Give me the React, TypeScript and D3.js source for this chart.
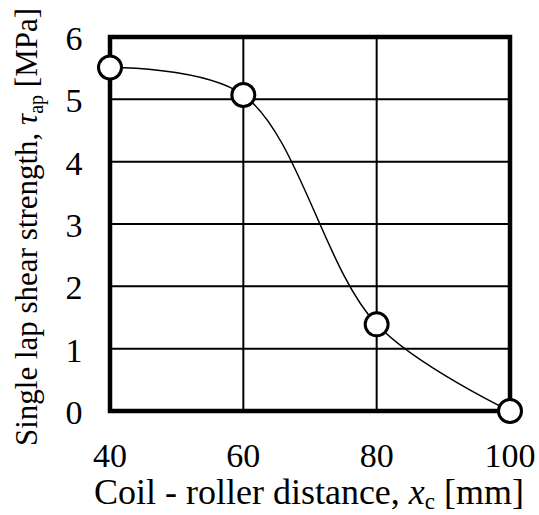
import React, { useRef, useEffect } from 'react';
import * as d3 from 'd3';

const distances = [40, 60, 80, 100];
const strength = [5.51, 5.07, 1.39, 0];
const xTicks = [40, 60, 80, 100];
const yTicks = [0, 1, 2, 3, 4, 5, 6];

const W = 539;
const H = 515;
const FONT = "'Liberation Serif', 'Times New Roman', serif";

const App = () => {
    const ref = useRef<SVGSVGElement | null>(null);

    useEffect(() => {
        const svg = d3.select(ref.current);
        svg.selectAll('*').remove();

        const m = { left: 110, right: 29, top: 37, bottom: 104 };
        const x = d3.scaleLinear().domain([40, 100]).range([m.left, W - m.right]);
        const y = d3.scaleLinear().domain([0, 6]).range([H - m.bottom, m.top]);

        // grid lines
        svg.append('g')
            .selectAll('line')
            .data(xTicks)
            .enter()
            .append('line')
            .attr('x1', d => x(d))
            .attr('x2', d => x(d))
            .attr('y1', y(0))
            .attr('y2', y(6))
            .attr('stroke', 'black')
            .attr('stroke-width', 2);
        svg.append('g')
            .selectAll('line')
            .data(yTicks)
            .enter()
            .append('line')
            .attr('x1', x(40))
            .attr('x2', x(100))
            .attr('y1', d => y(d))
            .attr('y2', d => y(d))
            .attr('stroke', 'black')
            .attr('stroke-width', 2);

        // frame
        svg.append('rect')
            .attr('x', x(40))
            .attr('y', y(6))
            .attr('width', x(100) - x(40))
            .attr('height', y(0) - y(6))
            .attr('fill', 'none')
            .attr('stroke', 'black')
            .attr('stroke-width', 4.5);

        // tick labels
        svg.append('g')
            .selectAll('text')
            .data(xTicks)
            .enter()
            .append('text')
            .attr('x', d => x(d))
            .attr('y', y(0) + 56)
            .attr('text-anchor', 'middle')
            .style('font-family', FONT)
            .style('font-size', '34px')
            .text(d => d);
        svg.append('g')
            .selectAll('text')
            .data(yTicks)
            .enter()
            .append('text')
            .attr('x', x(40) - 36)
            .attr('y', d => y(d) + 13)
            .attr('text-anchor', 'middle')
            .style('font-family', FONT)
            .style('font-size', '34px')
            .text(d => d);

        // fitted curve
        const line = d3.line<number>()
            .x((d, i) => x(distances[i]))
            .y(d => y(d))
            .curve(d3.curveCatmullRom.alpha(0.5));
        svg.append('path')
            .attr('d', line(strength))
            .attr('fill', 'none')
            .attr('stroke', 'black')
            .attr('stroke-width', 1.5);

        // markers
        svg.append('g')
            .selectAll('circle')
            .data(strength)
            .enter()
            .append('circle')
            .attr('cx', (d, i) => x(distances[i]))
            .attr('cy', d => y(d))
            .attr('r', 11.5)
            .attr('fill', 'white')
            .attr('stroke', 'black')
            .attr('stroke-width', 3);

        // x axis title
        const xt = svg.append('text')
            .attr('x', 309)
            .attr('y', H - 11)
            .attr('text-anchor', 'middle')
            .style('font-family', FONT)
            .style('font-size', '36px');
        xt.append('tspan').text('Coil - roller distance, ');
        xt.append('tspan').style('font-style', 'italic').text('x');
        xt.append('tspan').style('font-size', '23px').attr('dy', 5).text('c');
        xt.append('tspan').attr('dy', -5).text(' [mm]');

        // y axis title
        const yt = svg.append('text')
            .attr('transform', `translate(37, 227) rotate(-90)`)
            .attr('text-anchor', 'middle')
            .style('font-family', FONT)
            .style('font-size', '31px');
        yt.append('tspan').text('Single lap shear strength, ');
        yt.append('tspan').style('font-style', 'italic').text('τ');
        yt.append('tspan').style('font-size', '20px').attr('dy', 6).text('ap');
        yt.append('tspan').attr('dy', -6).text(' [MPa]');
    }, []);

    return (
        <svg
            ref={ref}
            width={W}
            height={H}
            style={{ position: 'absolute', left: 0, top: 0, background: 'white' }}
        />
    );
};

export default App;
